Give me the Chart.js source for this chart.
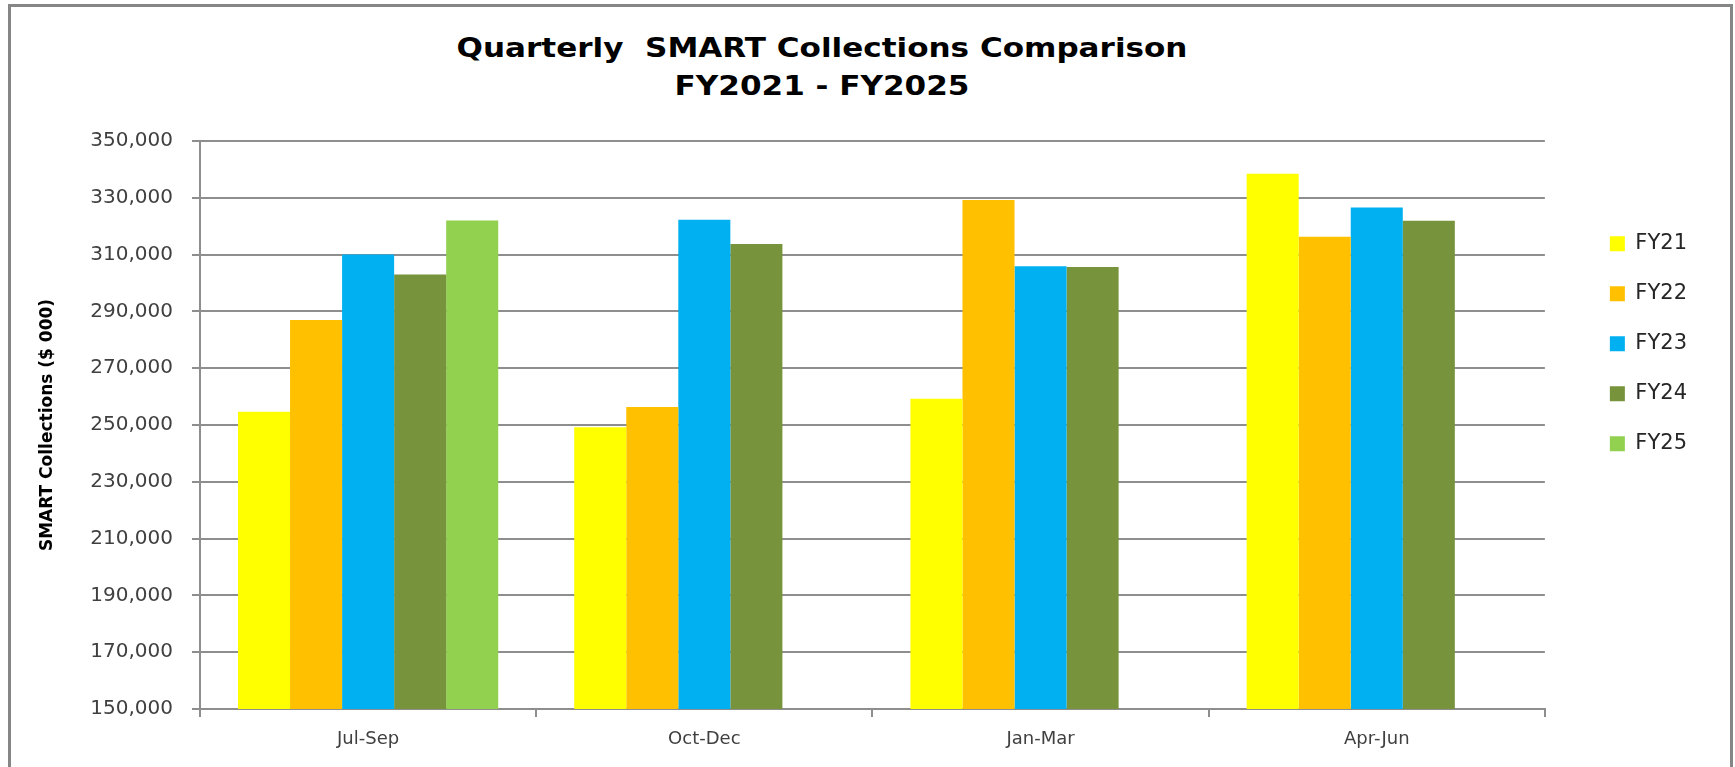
<!DOCTYPE html>
<html>
<head>
<meta charset="utf-8">
<title>Quarterly SMART Collections Comparison</title>
<script src="https://cdn.jsdelivr.net/npm/chart.js@4.4.1/dist/chart.umd.min.js"></script>
<style>
    html, body { margin: 0; padding: 0; background: #fff; }
    #wrap { position: relative; width: 1735px; height: 767px; overflow: hidden; }
    #frame {
        position: absolute; left: 8px; top: 4px; width: 1725px; height: 800px;
        box-sizing: border-box; border: 3px solid #868686;
    }
    #title {
        position: absolute; left: 322px; top: 29px; width: 1000px;
        text-align: center; font-family: "DejaVu Sans", sans-serif; font-weight: bold;
        font-size: 27px; line-height: 38px; color: #000;
        transform: scaleX(1.15); transform-origin: 500px 0;
    }
    #chart { position: absolute; left: 0; top: 0; }
</style>
</head>
<body>
<div id="wrap">
    <div id="frame"></div>
    <div id="title">Quarterly&nbsp; SMART Collections Comparison<br>FY2021 - FY2025</div>
    <canvas id="chart" width="1735" height="767"></canvas>
</div>
<script>
// quarters of the fiscal year
const quarters = ['Jul-Sep', 'Oct-Dec', 'Jan-Mar', 'Apr-Jun'];

// collections in $ 000
const fy21 = [254700, 249200, 259200, 338500];
const fy22 = [287000, 256300, 329200, 316300];
const fy23 = [310000, 322300, 305900, 326600];
const fy24 = [303000, 313700, 305600, 321900];
const fy25 = [322000, null, null, null];

const seriesNames = ['FY21', 'FY22', 'FY23', 'FY24', 'FY25'];
const seriesValues = [fy21, fy22, fy23, fy24, fy25];
const seriesColors = ['#FFFF00', '#FFC000', '#00B0F0', '#77933C', '#92D050'];

// value axis
const yMin = 150000;
const yMax = 350000;
const yStep = 20000;
const yTitle = 'SMART Collections ($ 000)';

const gridColor = '#8e8e8e';
const textColor = '#404040';

let datasets = seriesNames.map((name, i) => ({
    label: name,
    data: seriesValues[i],
    backgroundColor: seriesColors[i],
    borderWidth: 0,
    barPercentage: 1.0,
    categoryPercentage: 0.774,
}));

new Chart(document.getElementById('chart'), {
    type: 'bar',
    data: {
        labels: quarters,
        datasets,
    },
    options: {
        responsive: false,
        animation: false,
        layout: {
            padding: { left: 10, top: 141, right: 38, bottom: 8 },
        },
        plugins: {
            title: { display: false },
            tooltip: { enabled: false },
            legend: {
                position: 'right',
                align: 'start',
                fullSize: false,
                title: { display: true, text: '', padding: { top: 62, bottom: 0 }, font: { size: 1 } },
                labels: {
                    boxWidth: 15,
                    boxHeight: 15,
                    padding: 29,
                    color: '#262626',
                    font: { family: 'DejaVu Sans', size: 21 },
                },
            },
        },
        scales: {
            x: {
                grid: {
                    display: true,
                    drawOnChartArea: false,
                    drawTicks: true,
                    tickLength: 8,
                    color: gridColor,
                    lineWidth: 2,
                },
                border: { display: true, color: gridColor, width: 2 },
                ticks: {
                    color: textColor,
                    padding: 12,
                    font: { family: 'DejaVu Sans', size: 18 },
                },
                afterFit: (scale) => { scale.height = 50; },
            },
            y: {
                min: yMin,
                max: yMax,
                grid: {
                    color: gridColor,
                    lineWidth: 2,
                    tickLength: 8,
                },
                border: { display: true, color: gridColor, width: 2 },
                ticks: {
                    stepSize: yStep,
                    color: textColor,
                    padding: 19,
                    font: { family: 'DejaVu Sans', size: 20 },
                    callback: (v) => v.toLocaleString('en-US'),
                },
                title: {
                    display: true,
                    text: yTitle,
                    color: '#000',
                    padding: { top: 27, bottom: 0 },
                    font: { family: 'DejaVu Sans', size: 17, weight: 'bold' },
                },
                afterFit: (scale) => { scale.width = 190; },
            },
            // empty spacer between the plot and the legend
            gap: {
                type: 'linear',
                position: 'right',
                display: true,
                grid: { display: false },
                border: { display: false },
                ticks: { display: false },
                afterFit: (scale) => { scale.width = 36; },
            },
        },
    },
});
</script>
</body>
</html>
